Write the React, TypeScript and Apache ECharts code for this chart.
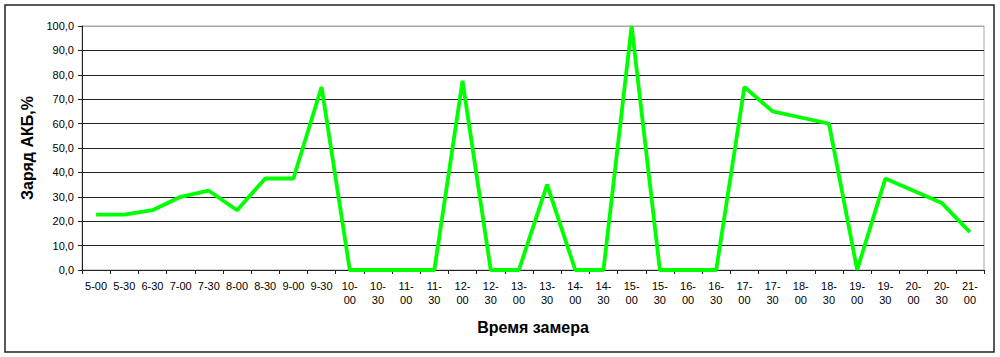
import React, { useEffect, useRef } from "react";
import * as echarts from "echarts";

const categories = [
  "5-00", "5-30", "6-30", "7-00", "7-30", "8-00", "8-30", "9-00", "9-30",
  "10-00", "10-30", "11-00", "11-30", "12-00", "12-30", "13-00", "13-30",
  "14-00", "14-30", "15-00", "15-30", "16-00", "16-30", "17-00", "17-30",
  "18-00", "18-30", "19-00", "19-30", "20-00", "20-30", "21-00",
];
const charge = [
  22.7, 22.7, 24.5, 30, 32.5, 24.5, 37.5, 37.5, 75,
  0, 0, 0, 0, 77.5, 0, 0, 35,
  0, 0, 100, 0, 0, 0, 75, 65,
  62.5, 60, 0, 37.5, 32.5, 27.5, 15.5,
];
const yTitle = "Заряд АКБ,%";
const xTitle = "Время замера";

export default function App() {
  const ref = useRef<HTMLDivElement>(null);
  useEffect(() => {
    document.body.style.margin = "0";
    const chart = echarts.init(ref.current!, null, { renderer: "svg" });
    const splitColors = Array.from({ length: 11 }, (_, i) => (i === 10 ? "#a8a8a8" : "#222"));
    chart.setOption({
      animation: false,
      backgroundColor: "#fff",
      textStyle: { fontFamily: "Liberation Sans, Arial, sans-serif" },
      grid: {
        left: 82,
        top: 26,
        right: 16,
        bottom: 87,
        show: true,
        borderColor: "#a8a8a8",
        borderWidth: 1,
      },
      graphic: [
        {
          type: "rect",
          shape: { x: 5, y: 5, width: 989, height: 347 },
          style: { fill: "none", stroke: "#222", lineWidth: 1.5 },
          silent: true,
        },
      ],
      xAxis: {
        type: "category",
        data: categories,
        boundaryGap: true,
        name: xTitle,
        nameLocation: "middle",
        nameGap: 49,
        nameTextStyle: { fontSize: 16, fontWeight: "bold", color: "#000", fontFamily: "Liberation Sans, Arial, sans-serif" },
        axisLine: { lineStyle: { color: "#222", width: 1 } },
        axisTick: { show: true, length: 4, lineStyle: { color: "#222" } },
        axisLabel: {
          interval: 0,
          color: "#000",
          fontSize: 11,
          lineHeight: 14,
          margin: 9,
          formatter: (v: string) => (v.length > 4 ? v.replace("-", "-\n") : v),
        },
        splitLine: { show: false },
      },
      yAxis: {
        type: "value",
        min: 0,
        max: 100,
        interval: 10,
        name: yTitle,
        nameLocation: "middle",
        nameGap: 45,
        nameTextStyle: { fontSize: 16, fontWeight: "bold", color: "#000", fontFamily: "Liberation Sans, Arial, sans-serif" },
        axisLine: { show: true, lineStyle: { color: "#222", width: 1 } },
        axisTick: { show: true, length: 4, lineStyle: { color: "#222" } },
        axisLabel: {
          color: "#000",
          fontSize: 11,
          margin: 8,
          formatter: (v: number) => v.toFixed(1).replace(".", ","),
        },
        splitLine: { show: true, lineStyle: { color: splitColors, width: 1 } },
      },
      series: [
        {
          type: "line",
          data: charge,
          symbol: "none",
          lineStyle: { color: "#00ff00", width: 3.8 },
          itemStyle: { color: "#00ff00" },
        },
      ],
    });
    return () => chart.dispose();
  }, []);
  return <div ref={ref} style={{ width: 1000, height: 357 }} />;
}
